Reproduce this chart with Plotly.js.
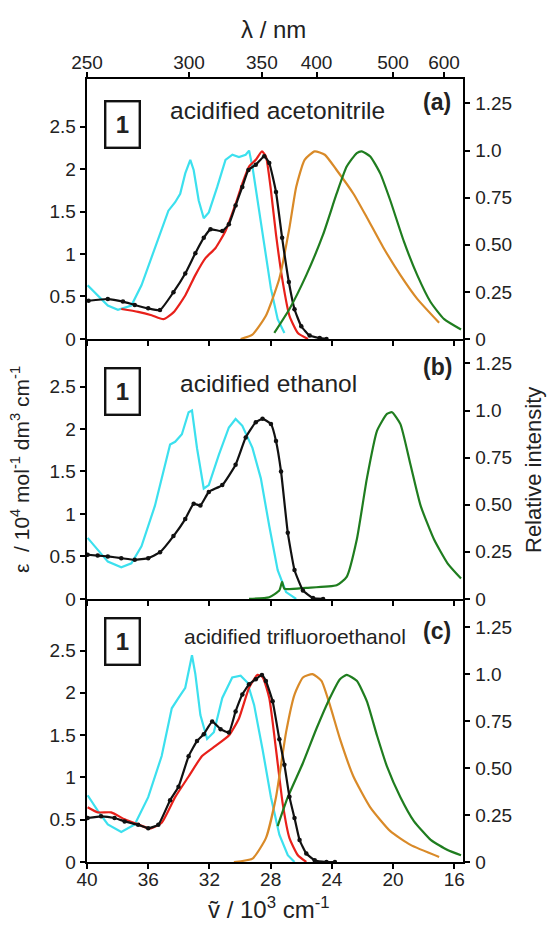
<!DOCTYPE html>
<html><head><meta charset="utf-8">
<script src="https://cdn.plot.ly/plotly-3.0.1.min.js"></script>
<style>html,body{margin:0;padding:0;background:#fff}#chart{width:551px;height:927px}</style>
</head><body><div id="chart"></div>
<script>
// ---- tick labels ----
const nuTicks = [40, 36, 32, 28, 24, 20, 16];
const lambdaTicks = [250, 300, 350, 400, 500, 600];
const epsTicks = [0, 0.5, 1, 1.5, 2, 2.5];
const epsTickText = ['0', '0.5', '1', '1.5', '2', '2.5'];
const relTicks = [0, 0.25, 0.5, 0.75, 1.0, 1.25];
const relTickText = ['0', '0.25', '0.50', '0.75', '1.0', '1.25'];

// ---- panel (a): acidified acetonitrile ----
const nuA_black = [39.9,38.64,37.65,36.88,36.0,35.23,34.35,33.58,32.92,32.37,31.93,31.16,30.73,30.29,29.85,29.45,28.97,28.42,28.09,27.65,27.25,26.81,26.44,26.0,25.45,24.79,24.35];
const epsA_black = [0.45,0.47,0.44,0.40,0.36,0.34,0.55,0.77,1.01,1.19,1.29,1.27,1.35,1.57,1.79,1.99,2.05,2.15,2.07,1.73,1.19,0.67,0.35,0.15,0.04,0.01,0.0];
const nuA_cyan = [39.96,39.3,38.64,37.98,37.1,36.44,35.56,34.68,34.24,33.91,33.58,33.25,33.03,32.7,32.37,32.04,31.49,30.95,30.5,30.07,29.63,29.41,29.19,28.86,28.42,27.98,27.54,27.1];
const relA_cyan = [0.285,0.231,0.177,0.155,0.177,0.285,0.483,0.681,0.726,0.771,0.879,0.951,0.897,0.735,0.641,0.672,0.807,0.951,0.978,0.966,0.978,1.0,0.915,0.735,0.483,0.267,0.105,0.032];
const nuA_red = [37.76,36.66,35.78,35.01,34.35,33.58,32.92,32.26,31.6,30.95,30.29,29.85,29.41,28.97,28.57,28.31,27.98,27.65,27.21,26.77,26.22,25.56];
const relA_red = [0.159,0.144,0.126,0.105,0.141,0.231,0.339,0.429,0.483,0.573,0.717,0.825,0.915,0.951,0.996,0.969,0.789,0.555,0.303,0.123,0.032,0];
const nuA_orange = [29.96,29.19,28.31,27.43,26.77,26.33,25.78,25.12,24.46,23.69,22.59,21.71,20.62,19.52,18.42,16.99];
const relA_orange = [0,0.023,0.123,0.321,0.591,0.807,0.951,0.996,0.978,0.897,0.771,0.645,0.483,0.339,0.213,0.086];
const nuA_green = [27.76,26.77,25.67,24.57,23.69,23.03,22.37,22.04,21.49,20.84,20.18,19.3,18.42,17.54,16.66,15.56];
const relA_green = [0.032,0.159,0.339,0.555,0.771,0.915,0.987,0.996,0.969,0.879,0.735,0.519,0.339,0.195,0.105,0.05];

// ---- panel (b): acidified ethanol ----
const nuB_black = [39.96,39.3,38.64,37.76,36.88,36.0,35.23,34.35,33.58,33.03,32.59,32.04,31.16,30.29,29.63,28.97,28.53,27.98,27.65,27.32,26.88,26.44,25.89,25.23,24.57];
const epsB_black = [0.52,0.51,0.50,0.48,0.46,0.48,0.55,0.74,0.94,1.12,1.10,1.26,1.34,1.58,1.90,2.08,2.12,2.06,1.86,1.50,0.78,0.34,0.10,0.01,0.0];
const nuB_cyan = [39.96,39.3,38.64,37.76,37.1,36.44,35.56,34.57,34.24,33.8,33.36,33.14,32.81,32.37,32.04,31.38,30.73,30.29,29.85,29.19,28.64,28.09,27.54,26.99,26.33];
const relB_cyan = [0.324,0.261,0.198,0.168,0.189,0.279,0.495,0.82,0.834,0.874,0.991,1.0,0.80,0.586,0.604,0.766,0.91,0.955,0.919,0.802,0.64,0.387,0.153,0.036,0];
const nuB_green = [29.41,28.09,27.43,27.25,27.1,25.67,23.69,23.03,22.37,21.71,21.05,20.4,20.07,19.52,18.86,18.2,17.32,16.44,15.56];
const relB_green = [0,0.009,0.045,0.09,0.054,0.059,0.072,0.117,0.315,0.64,0.892,0.982,0.991,0.928,0.712,0.495,0.315,0.189,0.108];

// ---- panel (c): acidified trifluoroethanol ----
const nuC_black = [39.96,39.08,38.2,37.54,36.66,36.0,35.34,34.57,34.02,33.36,32.81,32.37,31.82,31.27,30.73,30.29,29.85,29.41,28.97,28.57,28.31,27.87,27.43,27.1,26.77,26.44,26.11,25.67,25.12,24.35,23.8];
const epsC_black = [0.52,0.54,0.52,0.48,0.44,0.40,0.44,0.73,0.89,1.25,1.43,1.51,1.66,1.57,1.53,1.78,1.98,2.10,2.16,2.21,2.14,1.90,1.45,1.15,0.77,0.52,0.26,0.10,0.02,0.0,0.0];
const nuC_red = [39.96,39.3,38.42,37.54,36.66,35.89,35.12,34.24,33.36,32.48,31.6,30.73,30.07,29.41,28.86,28.53,28.09,27.65,27.21,26.77,26.22,25.67];
const relC_red = [0.291,0.264,0.264,0.227,0.2,0.178,0.209,0.345,0.455,0.564,0.618,0.673,0.764,0.927,0.996,0.985,0.873,0.6,0.309,0.127,0.036,0];
const nuC_cyan = [39.96,39.3,38.64,37.76,36.88,36.0,35.12,34.46,34.02,33.58,33.14,32.92,32.59,32.15,31.71,31.16,30.51,29.96,29.52,29.08,28.53,27.98,27.43,26.88,26.44];
const relC_cyan = [0.355,0.273,0.2,0.16,0.2,0.345,0.564,0.818,0.873,0.927,1.1,1.0,0.782,0.655,0.691,0.873,0.982,0.991,0.955,0.836,0.6,0.345,0.145,0.036,0];
const nuC_orange = [30.4,29.19,28.31,27.65,26.99,26.44,25.89,25.27,24.68,24.13,23.47,22.59,21.49,20.18,18.86,16.99];
const relC_orange = [0,0.018,0.127,0.345,0.691,0.891,0.982,1.0,0.964,0.836,0.655,0.455,0.291,0.164,0.091,0.027];
const nuC_green = [27.54,26.88,25.89,25.01,24.13,23.47,23.03,22.37,21.71,21.05,20.4,19.52,18.64,17.54,16.44,15.56];
const relC_green = [0.191,0.345,0.527,0.709,0.873,0.973,0.996,0.964,0.855,0.673,0.509,0.345,0.218,0.118,0.064,0.036];

const FONT = 'Arial, "Liberation Sans", sans-serif';
const TXT = '#222';
const COL = {cyan:'#3ce0ee', red:'#e8201a', orange:'#d98a28', green:'#1f7d1f', black:'#111'};

function tr(x, y, color, xa, ya, smooth) {
  return {x:x, y:y, xaxis:xa, yaxis:ya, type:'scatter', mode:'lines',
    line:{color:color, width:2.2, shape: smooth ? 'spline' : 'linear', smoothing:0.5},
    hoverinfo:'skip', showlegend:false};
}
function blk(x, y, xa, ya) {
  return {x:x, y:y, xaxis:xa, yaxis:ya, type:'scatter', mode:'lines+markers',
    line:{color:COL.black, width:2.2, shape:'spline', smoothing:0.4},
    marker:{color:COL.black, size:4.5}, hoverinfo:'skip', showlegend:false};
}

const data = [
  // panel a : x3 (bottom of a) / x4 (top, lambda) / y5 (rel) / y6 (eps)
  tr(nuA_cyan, relA_cyan, COL.cyan, 'x3', 'y5', false),
  tr(nuA_red, relA_red, COL.red, 'x3', 'y5', true),
  tr(nuA_orange, relA_orange, COL.orange, 'x3', 'y5', true),
  tr(nuA_green, relA_green, COL.green, 'x4', 'y5', true),
  blk(nuA_black, epsA_black, 'x3', 'y6'),
  // panel b : x2 / y3 / y4
  tr(nuB_cyan, relB_cyan, COL.cyan, 'x2', 'y3', false),
  tr(nuB_green, relB_green, COL.green, 'x2', 'y3', true),
  blk(nuB_black, epsB_black, 'x2', 'y4'),
  // panel c : x / y / y2
  tr(nuC_cyan, relC_cyan, COL.cyan, 'x', 'y', false),
  tr(nuC_red, relC_red, COL.red, 'x', 'y', true),
  tr(nuC_orange, relC_orange, COL.orange, 'x', 'y', true),
  tr(nuC_green, relC_green, COL.green, 'x', 'y', true),
  blk(nuC_black, epsC_black, 'x', 'y2')
];

const tickFont = {family:FONT, size:19, color:TXT};
const axLine = {showline:true, linewidth:2.4, linecolor:'#000', ticks:'outside', ticklen:5,
  tickwidth:2, tickcolor:'#000', showgrid:false, zeroline:false, tickfont:tickFont, fixedrange:true};
const xBase = Object.assign({}, axLine, {range:[40, 15.43], tickvals:nuTicks, ticktext:nuTicks.map(String)});
function relAx(dom, anchor, top) {
  return Object.assign({}, axLine, {domain:dom, anchor:anchor, side:'right', range:[0, top],
    tickvals:relTicks, ticktext:relTickText, ticklabelstandoff:1});
}
function epsAx(over, anchor, top) {
  return Object.assign({}, axLine, {overlaying:over, anchor:anchor, side:'left', range:[0, top],
    tickvals:epsTicks, ticktext:epsTickText});
}

const px = v => (v - 87) / 376;
const py = v => (862 - v) / 783;

const ann = [];
function txt(x, y, text, size, extra) {
  ann.push(Object.assign({xref:'paper', yref:'paper', x:x, y:y, text:text, showarrow:false,
    xanchor:'center', yanchor:'middle', font:{family:FONT, size:size, color:TXT}}, extra || {}));
}
// axis titles
txt(px(273), py(30), 'λ / nm', 24);
txt(px(269), py(908), 'ṽ / 10<sup>3</sup> cm<sup>-1</sup>', 24);
txt(px(20), py(470), 'ε  / 10<sup>4</sup> mol<sup>-1</sup> dm<sup>3</sup> cm<sup>-1</sup>', 21, {textangle:-90});
txt(px(533), py(470), 'Relative intensity', 22, {textangle:-90});
// panel labels
const panels = [
  {box:124.5, t:111, lab:102, text:'acidified acetonitrile', tx:277, size:24.5, id:'(a)'},
  {box:391, t:383, lab:367, text:'acidified ethanol', tx:268, size:24.5, id:'(b)'},
  {box:642, t:636, lab:631, text:'acidified trifluoroethanol', tx:295, size:21, id:'(c)'}
];
panels.forEach(p => {
  txt(px(122.5), py(p.box), '<b>1</b>', 24, {bordercolor:'#111', borderwidth:2.4, borderpad:2,
    width:28, height:40, bgcolor:'#fff'});
  txt(px(p.tx), py(p.t), p.text, p.size);
  txt(px(437), py(p.lab), '<b>' + p.id + '</b>', 23);
});

const layout = {
  width:551, height:927, margin:{l:87, r:88, t:79, b:65},
  paper_bgcolor:'#fff', plot_bgcolor:'#fff', showlegend:false,
  xaxis: Object.assign({}, xBase, {anchor:'y', ticklabelstandoff:-6}),
  xaxis2: Object.assign({}, xBase, {anchor:'y3', showticklabels:false}),
  xaxis3: Object.assign({}, xBase, {anchor:'y5', showticklabels:false}),
  xaxis4: Object.assign({}, xBase, {overlaying:'x3', side:'top', anchor:'y5', ticklabelstandoff:-5,
    tickvals: lambdaTicks.map(l => 10000 / l), ticktext: lambdaTicks.map(String)}),
  yaxis: relAx([0, 0.336], 'x', 1.40),
  yaxis2: epsAx('y', 'x', 3.11),
  yaxis3: relAx([0.336, 0.668], 'x2', 1.38),
  yaxis4: epsAx('y3', 'x2', 3.06),
  yaxis5: relAx([0.668, 1], 'x3', 1.38),
  yaxis6: epsAx('y5', 'x3', 3.06),
  annotations: ann
};

Plotly.newPlot('chart', data, layout, {displayModeBar:false, staticPlot:true});
</script>
</body></html>
